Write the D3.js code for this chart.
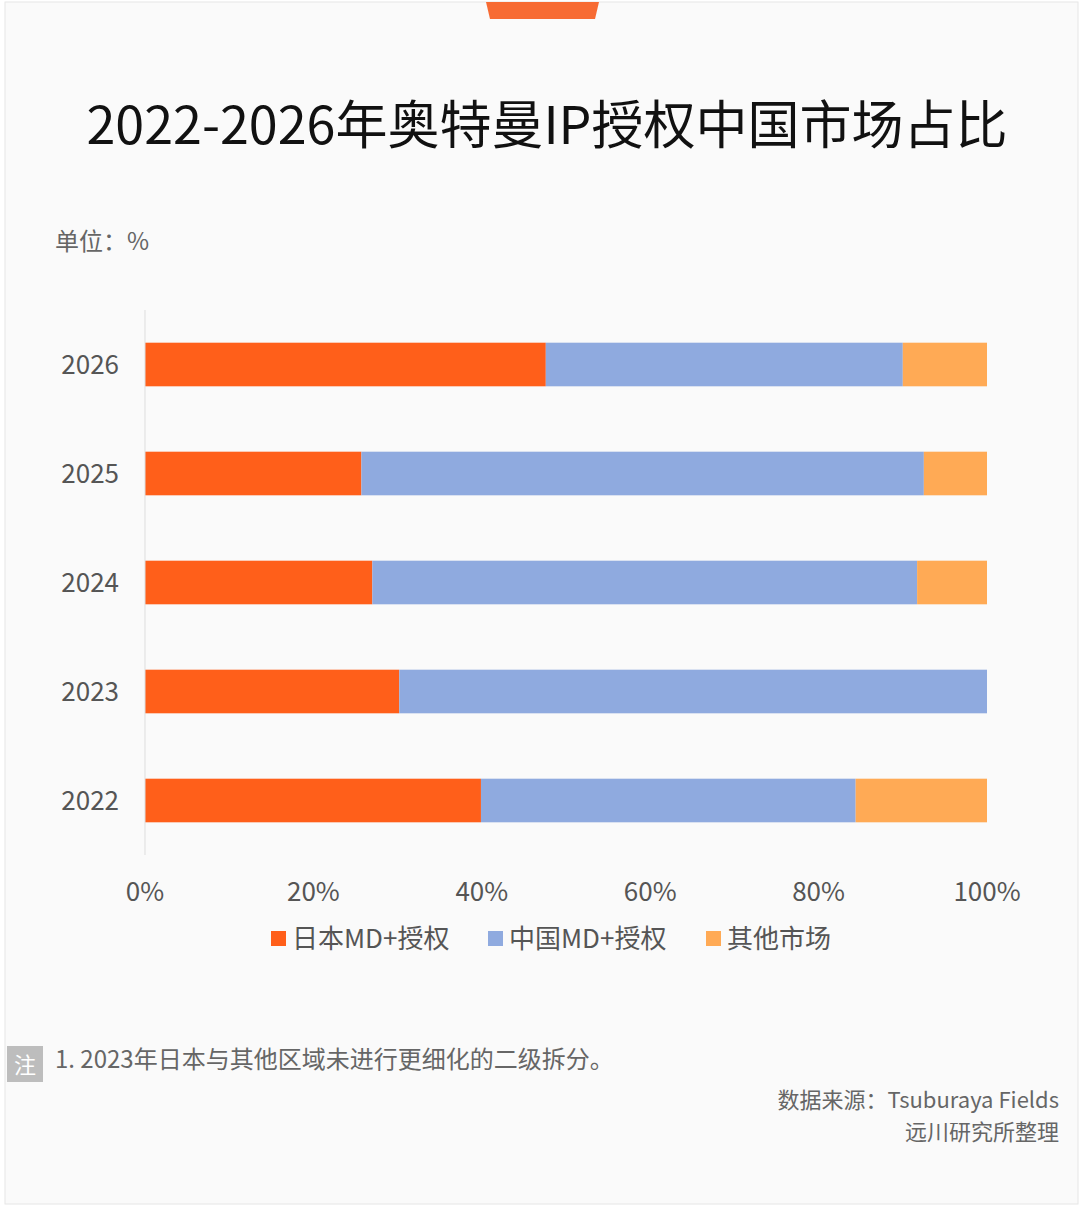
<!DOCTYPE html>
<html><head><meta charset="utf-8">
<script src="https://cdn.jsdelivr.net/npm/d3@7"></script>
<style>body{margin:0;background:#fff;}</style>
</head><body>
<script>
const width = 1080, height = 1208;
const font = '"Noto Sans CJK SC", "Noto Sans", sans-serif';

const years = ['2026', '2025', '2024', '2023', '2022'];
const seriesNames = ['日本MD+授权', '中国MD+授权', '其他市场'];
const japan = [47.6, 25.7, 27.0, 30.2, 39.9];
const china = [42.4, 66.8, 64.7, 69.8, 44.5];
const other = [10.0, 7.5, 8.3, 0, 15.6];
const colors = ['#ff5f1a', '#8faadf', '#ffaa55'];
const ticks = [0, 20, 40, 60, 80, 100];

const svg = d3.select('body').append('svg')
  .attr('width', width).attr('height', height);

// Page background & frame
svg.append('rect').attr('x', 5).attr('y', 2).attr('width', 1073).attr('height', 1202)
  .attr('fill', '#fafafa').attr('stroke', '#e6e6e6');
svg.append('path').attr('d', 'M486,2 L599,2 L595,19 L490,19 Z').attr('fill', '#f76b33');

svg.append('text').attr('x', 547).attr('y', 144).attr('text-anchor', 'middle')
  .attr('font-family', font).attr('font-size', 52).attr('fill', '#111')
  .text('2022-2026年奥特曼IP授权中国市场占比');

svg.append('text').attr('x', 55).attr('y', 250).attr('font-family', font)
  .attr('font-size', 24).attr('fill', '#666').text('单位：%');

const x = d3.scaleLinear().domain([0, 100]).range([145, 987]);
const y = d3.scaleBand().domain(years).range([310, 855]).paddingInner(0.6).paddingOuter(0.3);

const rows = years.map((yr, i) => ({year: yr, vals: [japan[i], china[i], other[i]]}));
const stack = d3.stack().keys([0, 1, 2]).value((d, k) => d.vals[k]);
const stacked = stack(rows);

svg.append('g').selectAll('g').data(stacked).join('g')
  .attr('fill', (d, i) => colors[i])
  .selectAll('rect').data(d => d).join('rect')
  .attr('x', d => x(d[0])).attr('width', d => x(d[1]) - x(d[0]))
  .attr('y', d => y(d.data.year)).attr('height', y.bandwidth());

svg.append('line').attr('x1', 145).attr('x2', 145).attr('y1', 310).attr('y2', 855)
  .attr('stroke', '#ddd');

svg.append('g').selectAll('text').data(years).join('text')
  .attr('x', 119).attr('y', d => y(d) + y.bandwidth() / 2 + 9).attr('text-anchor', 'end')
  .attr('font-family', font).attr('font-size', 26).attr('fill', '#555').text(d => d);

svg.append('g').selectAll('text').data(ticks).join('text')
  .attr('x', d => x(d)).attr('y', 901).attr('text-anchor', 'middle')
  .attr('font-family', font).attr('font-size', 26).attr('fill', '#555').text(d => d + '%');

// legend
const legX = [271, 488, 706];
const leg = svg.append('g').selectAll('g').data(seriesNames).join('g')
  .attr('transform', (d, i) => `translate(${legX[i]},938)`);
leg.append('rect').attr('y', -7).attr('width', 15).attr('height', 15).attr('fill', (d, i) => colors[i]);
leg.append('text').attr('x', 21).attr('y', 10).attr('font-family', font)
  .attr('font-size', 26).attr('fill', '#555').text(d => d);

// note
svg.append('rect').attr('x', 7).attr('y', 1046).attr('width', 36).attr('height', 36).attr('fill', '#bdbdbd');
svg.append('text').attr('x', 25).attr('y', 1073).attr('text-anchor', 'middle').attr('font-family', font)
  .attr('font-size', 22).attr('fill', '#fff').text('注');
svg.append('text').attr('x', 55).attr('y', 1068).attr('font-family', font)
  .attr('font-size', 24).attr('fill', '#666').text('1. 2023年日本与其他区域未进行更细化的二级拆分。');
svg.append('text').attr('x', 1059).attr('y', 1108).attr('text-anchor', 'end').attr('font-family', font)
  .attr('font-size', 22).attr('fill', '#666').text('数据来源：Tsuburaya Fields');
svg.append('text').attr('x', 1059).attr('y', 1140).attr('text-anchor', 'end').attr('font-family', font)
  .attr('font-size', 22).attr('fill', '#666').text('远川研究所整理');
</script>
</body></html>
